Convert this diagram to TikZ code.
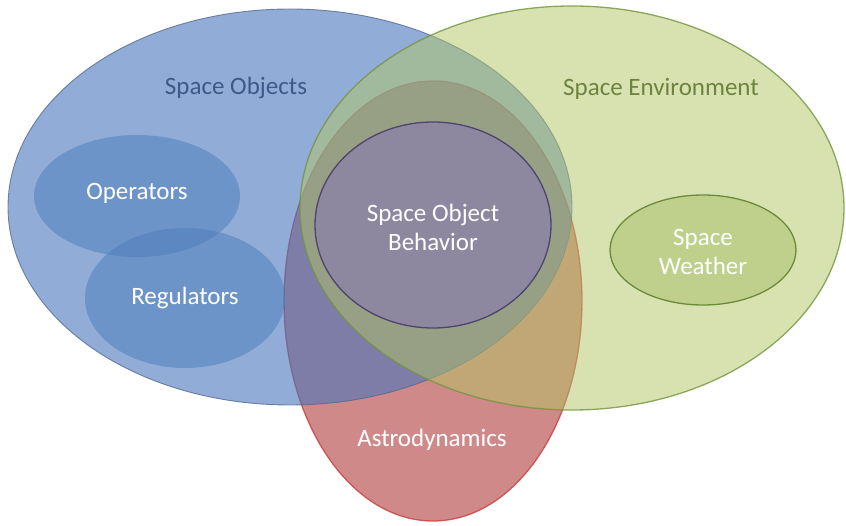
\documentclass[tikz,border=0pt]{standalone}
\usepackage{fontspec}
\setmainfont{Carlito}
\definecolor{bluebase}{RGB}{72,117,187}
\definecolor{greenbase}{RGB}{178,198,100}
\definecolor{redbase}{RGB}{160,20,20}
\definecolor{bluestroke}{RGB}{85,105,145}
\definecolor{greenstroke}{RGB}{115,148,60}
\definecolor{redstroke}{RGB}{200,60,60}
\definecolor{sobfill}{RGB}{141,136,160}
\definecolor{sobstroke}{RGB}{78,68,110}
\definecolor{subblue}{RGB}{75,124,186}
\definecolor{swfill}{RGB}{190,208,140}
\definecolor{swstroke}{RGB}{108,138,58}
\definecolor{sotext}{RGB}{62,88,138}
\definecolor{setext}{RGB}{110,132,62}
\begin{document}
\begin{tikzpicture}[x=1pt,y=-1pt,
  lbl/.style={font=\fontsize{25}{29}\selectfont, align=center, inner sep=0pt},
  wlbl/.style={lbl, text=white},
  big/.style={fill opacity=0.5, draw opacity=0.8, line width=1.3pt}]
\useasboundingbox (0,0) rectangle (846,526);
% red (Astrodynamics)
\draw[big, fill=redbase, draw=redstroke] (433,301) ellipse [x radius=149, y radius=220];
\coordinate (red) at (433,301);
% blue (Space Objects)
\draw[big, fill=bluebase, fill opacity=0.6, draw=bluestroke, line width=0.9pt] (290,207) ellipse [x radius=282, y radius=198];
\coordinate (blue) at (290,207);
% sub ellipses
\fill[subblue, fill opacity=0.5] (137,196) ellipse [x radius=103, y radius=61];
\fill[subblue, fill opacity=0.5] (185,298) ellipse [x radius=100, y radius=70];
% green (Space Environment)
\draw[big, fill=greenbase, draw=greenstroke] (572,208) ellipse [x radius=272, y radius=202];
\coordinate (green) at (572,208);
% Space Object Behavior
\draw[fill=sobfill, draw=sobstroke, line width=1.3pt] (433,225) ellipse [x radius=118, y radius=103];
% Space Weather
\draw[fill=swfill, draw=swstroke, line width=1.3pt] (703,250) ellipse [x radius=93, y radius=55];
% labels
\node[lbl, text=sotext] (so) at (236,88) {Space Objects};
\node[lbl, text=setext] (se) at (661,89) {Space Environment};
\node[wlbl] (op) at (137,193) {Operators};
\node[wlbl] (rg) at (185,298) {Regulators};
\node[wlbl] (sob) at (433,227) {Space Object\\Behavior};
\node[wlbl] (sw) at (703,252) {Space\\Weather};
\node[wlbl] (ad) at (432,440) {Astrodynamics};
\end{tikzpicture}
\end{document}
